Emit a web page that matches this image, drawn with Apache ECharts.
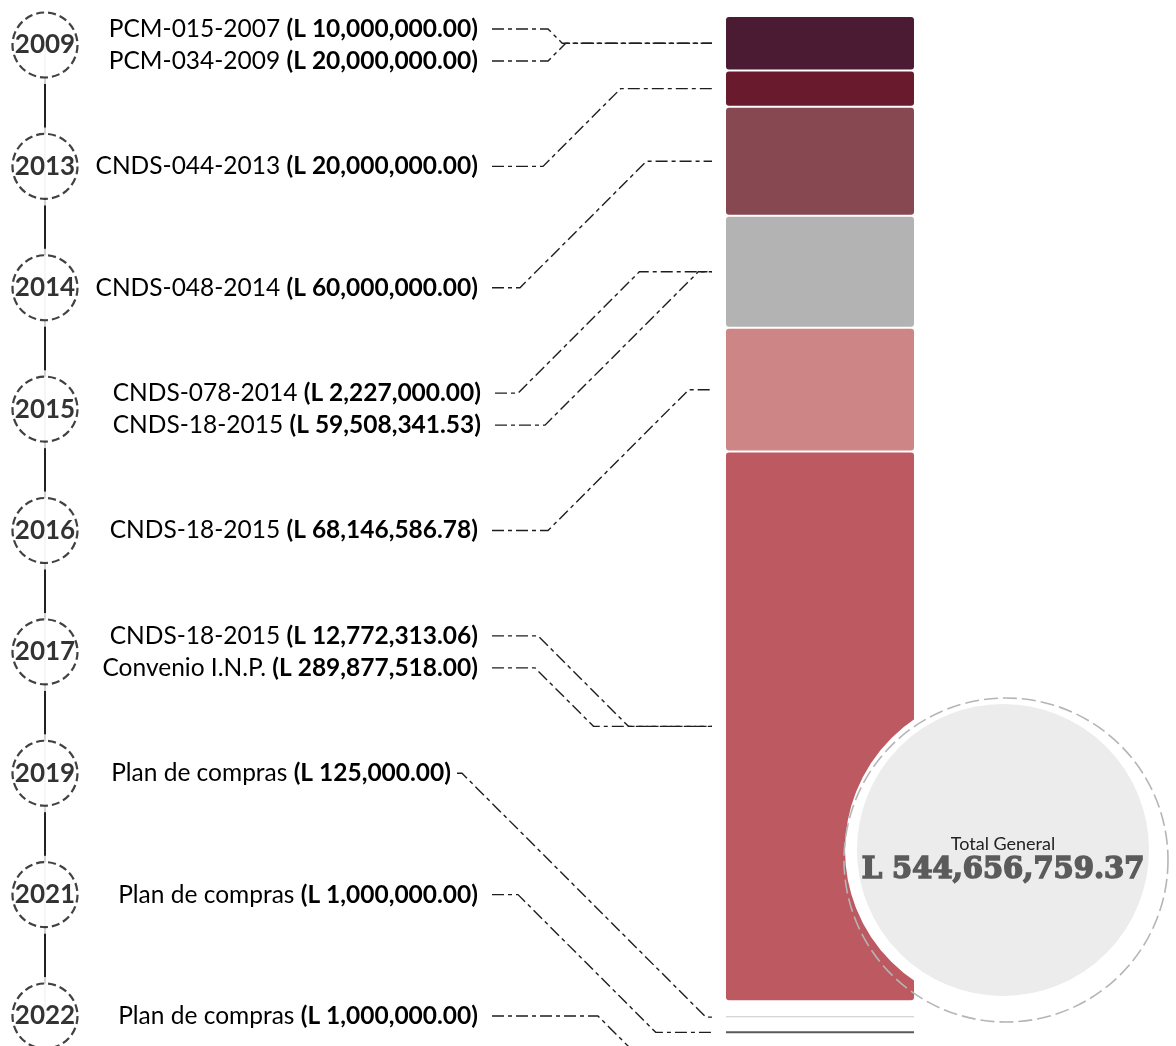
<!DOCTYPE html>
<html>
<head>
<meta charset="utf-8">
<script src="https://cdn.jsdelivr.net/npm/echarts@6/dist/echarts.min.js"></script>
<style>
html, body { margin: 0; padding: 0; background: #fff; }
#chart { width: 1176px; height: 1046px; }
</style>
</head>
<body>
<div id="chart"></div>
<script>
// años de la línea de tiempo
var years = ['2009', '2013', '2014', '2015', '2016', '2017', '2019', '2021', '2022'];
// convenios por año
var entryYears = ['2009', '2009', '2013', '2014', '2015', '2015', '2016', '2017', '2017', '2019', '2021', '2022'];
var entryNames = ['PCM-015-2007', 'PCM-034-2009', 'CNDS-044-2013', 'CNDS-048-2014', 'CNDS-078-2014', 'CNDS-18-2015',
  'CNDS-18-2015', 'CNDS-18-2015', 'Convenio I.N.P.', 'Plan de compras', 'Plan de compras', 'Plan de compras'];
var entryAmounts = [10000000.00, 20000000.00, 20000000.00, 60000000.00, 2227000.00, 59508341.53,
  68146586.78, 12772313.06, 289877518.00, 125000.00, 1000000.00, 1000000.00];
var totalLabel = 'Total General';

// estilos
var yearColors = ['#4a1b33', '#6a1a2d', '#874852', '#b4b3b4', '#cd8585', '#bd5960', '#c9c9c9', '#5a5a5a', '#3a3a3a'];
var labelShift = [0, 0, 0, 0, 3, 3, 0, 0, 0, -27, 0, 0];
var leaderBend = [548, 548, 543, 520, 518, 545, 548, 538, 535, 462, 518, 598];

var total = entryAmounts.reduce(function (a, b) { return a + b; }, 0);
var yearTotals = years.map(function (y) {
  var s = 0;
  entryAmounts.forEach(function (v, i) { if (entryYears[i] === y) s += v; });
  return s;
});
var starts = [];
var acc = 0;
yearTotals.forEach(function (v) { starts.push(acc); acc += v; });
// los tramos muy pequeños se separan un poco para que se vean
var tinyRank = [];
var t = 0;
yearTotals.forEach(function (v) {
  if (v / total < 0.005) { t++; tinyRank.push(t); } else tinyRank.push(0);
});
var TINY_GAP = 15;

function fmt(v) {
  return v.toLocaleString('en-US', { minimumFractionDigits: 2, maximumFractionDigits: 2 });
}

// posición de cada convenio dentro de su año
var slot = [], slotCount = [];
entryYears.forEach(function (y, i) {
  var same = entryYears.filter(function (z) { return z === y; });
  slotCount.push(same.length);
  slot.push(entryYears.slice(0, i).filter(function (z) { return z === y; }).length);
});

var FONT = 'Lato, "Noto Sans", sans-serif';

var myChart = echarts.init(document.getElementById('chart'));

var option = {
  animation: false,
  backgroundColor: '#fff',
  grid: [
    { left: 45, width: 433, top: 45, bottom: 30 },
    { left: 726, width: 188, top: 16, bottom: 41 }
  ],
  xAxis: [
    { gridIndex: 0, type: 'value', min: 0, max: 1, show: false },
    { gridIndex: 1, type: 'category', data: ['Total'], show: false }
  ],
  yAxis: [
    { gridIndex: 0, type: 'category', data: years, inverse: true, boundaryGap: false, show: false },
    { gridIndex: 1, type: 'value', inverse: true, min: 0, max: total, show: false }
  ],
  series: [
    {
      type: 'line',
      xAxisIndex: 0, yAxisIndex: 0,
      data: years.map(function (y) { return [0, y]; }),
      symbol: 'none',
      lineStyle: { color: '#222', width: 2 },
      silent: true,
      z: 1
    },
    {
      type: 'scatter',
      xAxisIndex: 0, yAxisIndex: 0,
      data: years.map(function (y) { return [0, y]; }),
      symbolSize: 78,
      itemStyle: { color: '#fff' },
      silent: true,
      z: 2
    },
    {
      type: 'scatter',
      xAxisIndex: 0, yAxisIndex: 0,
      data: years.map(function (y) { return [0, y]; }),
      symbolSize: 65,
      itemStyle: { color: '#fff', borderColor: '#111', borderWidth: 2.2, borderType: [8, 4] },
      label: {
        show: true,
        position: 'inside',
        formatter: function (p) { return p.value[1]; },
        fontSize: 26,
        fontWeight: 'bold',
        fontFamily: FONT,
        color: '#000'
      },
      silent: true,
      z: 3
    },
    {
      type: 'custom',
      xAxisIndex: 0, yAxisIndex: 0,
      data: entryYears.map(function (y, i) { return [1, y, i]; }),
      renderItem: function (params, api) {
        var i = api.value(2);
        var p = api.coord([1, api.value(1)]);
        var dy = (slot[i] - (slotCount[i] - 1) / 2) * 32;
        return {
          type: 'text',
          x: p[0] + labelShift[i],
          y: p[1] + dy,
          style: {
            text: '{n|' + entryNames[i] + ' }{b|(L ' + fmt(entryAmounts[i]) + ')}',
            align: 'right',
            verticalAlign: 'middle',
            rich: {
              n: { fontSize: 24.5, fontFamily: FONT, color: '#111' },
              b: { fontSize: 24.5, fontFamily: FONT, fontWeight: 'bold', color: '#000' }
            }
          }
        };
      },
      silent: true,
      z: 3
    },
    {
      type: 'custom',
      xAxisIndex: 1, yAxisIndex: 1,
      data: yearTotals.map(function (v, i) { return [0, starts[i], starts[i] + v, i]; }),
      encode: { x: 0, y: [1, 2] },
      renderItem: function (params, api) {
        var i = api.value(3);
        var p0 = api.coord([0, api.value(1)]);
        var p1 = api.coord([0, api.value(2)]);
        var w = api.size([1, 0])[0];
        var y0, h;
        if (tinyRank[i]) {
          y0 = p0[1] + tinyRank[i] * TINY_GAP;
          h = Math.max(1, p1[1] - p0[1]);
        } else {
          y0 = p0[1] + 1;
          h = p1[1] - p0[1] - 2;
        }
        return {
          type: 'rect',
          shape: { x: p0[0] - w / 2, y: y0, width: w, height: h, r: tinyRank[i] ? 0 : 3 },
          style: { fill: yearColors[i] }
        };
      },
      silent: true,
      z: 2
    }
  ]
};

myChart.setOption(option);

// líneas guía y círculo del total
function drawOverlay() {
  var els = [];
  var barLeft = myChart.convertToPixel({ gridIndex: 1 }, [0, 0])[0] - 94;
  var endX = barLeft - 14;
  entryYears.forEach(function (y, i) {
    var yi = years.indexOf(y);
    var p = myChart.convertToPixel({ gridIndex: 0 }, [1, yi]);
    var yL = p[1] + (slot[i] - (slotCount[i] - 1) / 2) * 32;
    var xL = p[0] + labelShift[i] + (labelShift[i] < 0 ? 6 : 14);
    var mid = starts[yi] + yearTotals[yi] / 2;
    var yT = myChart.convertToPixel({ gridIndex: 1 }, [0, mid])[1];
    if (tinyRank[yi]) yT = myChart.convertToPixel({ gridIndex: 1 }, [0, starts[yi]])[1] + tinyRank[yi] * TINY_GAP + 1;
    var bend = leaderBend[i];
    var dx = Math.min(Math.abs(yT - yL), endX - bend);
    els.push({
      type: 'polyline',
      shape: { points: [[xL, yL], [bend, yL], [bend + dx, yT], [endX, yT]] },
      style: { stroke: '#1e1e1e', lineWidth: 1.4, fill: null, lineDash: [12, 4, 4, 4] },
      silent: true,
      z: 5
    });
  });

  var cx = 1003, cy = 850;
  els.push({
    type: 'circle', shape: { cx: cx, cy: cy, r: 152 },
    style: { fill: '#ececec', stroke: '#fff', lineWidth: 12 }, z: 20, silent: true
  });
  els.push({
    type: 'circle', shape: { cx: 1006, cy: 860, r: 162 },
    style: { fill: null, stroke: '#b5b5b5', lineWidth: 1.6, lineDash: [14, 5] }, z: 21, silent: true
  });
  els.push({
    type: 'text', x: cx, y: 844,
    style: { text: totalLabel, fontSize: 18, fontFamily: FONT, fill: '#222', align: 'center', verticalAlign: 'middle' },
    z: 22, silent: true
  });
  els.push({
    type: 'text', x: cx, y: 870,
    style: { text: 'L ' + fmt(total), fontSize: 29, fontWeight: 'bold', fontFamily: '"DejaVu Serif", serif',
      fill: '#5b5b5b', stroke: '#5b5b5b', lineWidth: 1.6, align: 'center', verticalAlign: 'middle' },
    z: 22, silent: true
  });
  myChart.setOption({ graphic: { elements: els } });
}
drawOverlay();

window.addEventListener('resize', function () {
  myChart.resize();
  drawOverlay();
});
</script>
</body>
</html>
